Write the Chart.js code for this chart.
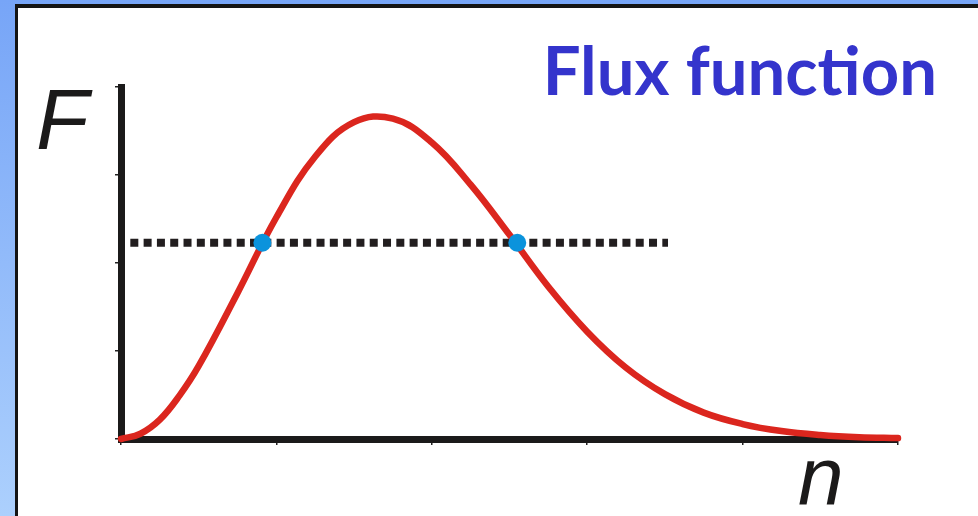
<!DOCTYPE html>
<html>
<head>
<meta charset="utf-8">
<script src="https://cdn.jsdelivr.net/npm/chart.js@4/dist/chart.umd.min.js"></script>
<style>
  html, body { margin: 0; padding: 0; }
  body {
    width: 978px; height: 516px; overflow: hidden; position: relative;
    background: linear-gradient(#77a5f7, #acd0fd);
  }
  #panel {
    position: absolute; left: 15px; top: 4px; right: 0; bottom: 0;
    background: #fff;
    border-left: 3px solid #141414;
    border-top: 4px solid #141414;
  }
  #fluxChart { position: absolute; left: 0; top: 0; }
</style>
</head>
<body>
<div id="panel"></div>
<canvas id="fluxChart" width="978" height="516"></canvas>
<script>
// density n and flux F
const fluxN = [0, 0.125, 0.25, 0.375, 0.5, 0.75, 1.0, 1.25, 1.5, 1.75, 2.0, 2.25, 2.5,
  2.75, 3.0, 3.25, 3.5, 3.75, 4.0, 4.25, 4.5, 4.75, 5.0];
const fluxF = [0, 0.06, 0.22, 0.49, 0.83, 1.66, 2.52, 3.21, 3.6, 3.64, 3.37, 2.89, 2.32,
  1.73, 1.22, 0.81, 0.51, 0.3, 0.17, 0.09, 0.045, 0.02, 0.01];

// the dotted flux level and the two densities where it meets the curve
const levelN = [0.06, 3.52];
const levelF = [2.23, 2.23];
const crossN = [0.91, 2.55];
const crossF = [2.23, 2.23];

const titleText = 'Flux function';
const yLabel = 'F';
const xLabel = 'n';

const toXY = (xs, ys) => xs.map((x, i) => ({ x: x, y: ys[i] }));

const textPlugin = {
  id: 'textPlugin',
  afterDraw(chart) {
    const ctx = chart.ctx;
    ctx.save();
    // title, fitted into the space it takes in the original
    let size = 72;
    ctx.font = 'bold ' + size + 'px "Comic Sans MS", Lato, "Open Sans", sans-serif';
    const w = ctx.measureText(titleText).width;
    if (w > 400) size = Math.floor(size * 400 / w);
    ctx.font = 'bold ' + size + 'px "Comic Sans MS", Lato, "Open Sans", sans-serif';
    ctx.fillStyle = '#3434cc';
    ctx.textAlign = 'right';
    ctx.textBaseline = 'alphabetic';
    ctx.fillText(titleText, 937, 95);

    // axis letters
    ctx.fillStyle = '#1b1a1a';
    ctx.textAlign = 'left';
    ctx.font = 'italic 86px "Liberation Sans", Arial, sans-serif';
    ctx.fillText(yLabel, 36, 149);
    ctx.font = 'italic 82px "Liberation Sans", Arial, sans-serif';
    ctx.fillText(xLabel, 798, 504);
    ctx.restore();
  }
};

const ctx = document.getElementById('fluxChart').getContext('2d');
const fluxChart = new Chart(ctx, {
  type: 'scatter',
  data: {
    datasets: [
      {
        label: 'crossings',
        data: toXY(crossN, crossF),
        showLine: false,
        pointRadius: 9,
        pointHoverRadius: 9,
        pointBackgroundColor: '#0b93dc',
        pointBorderWidth: 0,
        order: 0
      },
      {
        label: 'flux',
        data: toXY(fluxN, fluxF),
        showLine: true,
        borderColor: '#db261e',
        borderWidth: 6.5,
        borderCapStyle: 'round',
        pointRadius: 0,
        tension: 0.4,
        order: 1
      },
      {
        label: 'level',
        data: toXY(levelN, levelF),
        showLine: true,
        borderColor: '#221e1f',
        borderWidth: 8,
        borderDash: [8, 5.3],
        borderCapStyle: 'butt',
        pointRadius: 0,
        order: 2
      }
    ]
  },
  options: {
    responsive: false,
    animation: false,
    events: [],
    clip: false,
    layout: {
      padding: { left: 115, right: 80, top: 87, bottom: 71 }
    },
    plugins: {
      legend: { display: false },
      tooltip: { enabled: false }
    },
    scales: {
      x: {
        type: 'linear',
        min: 0,
        max: 5,
        ticks: { display: false, stepSize: 1 },
        grid: { drawOnChartArea: false, drawTicks: true, tickLength: 6, color: '#222', lineWidth: 1.5 },
        border: { display: true, color: '#1b1a1a', width: 7 }
      },
      y: {
        type: 'linear',
        min: 0,
        max: 4,
        ticks: { display: false, stepSize: 1 },
        grid: { drawOnChartArea: false, drawTicks: true, tickLength: 6, color: '#222', lineWidth: 1.5 },
        border: { display: true, color: '#1b1a1a', width: 7 }
      }
    }
  },
  plugins: [textPlugin]
});
</script>
</body>
</html>
